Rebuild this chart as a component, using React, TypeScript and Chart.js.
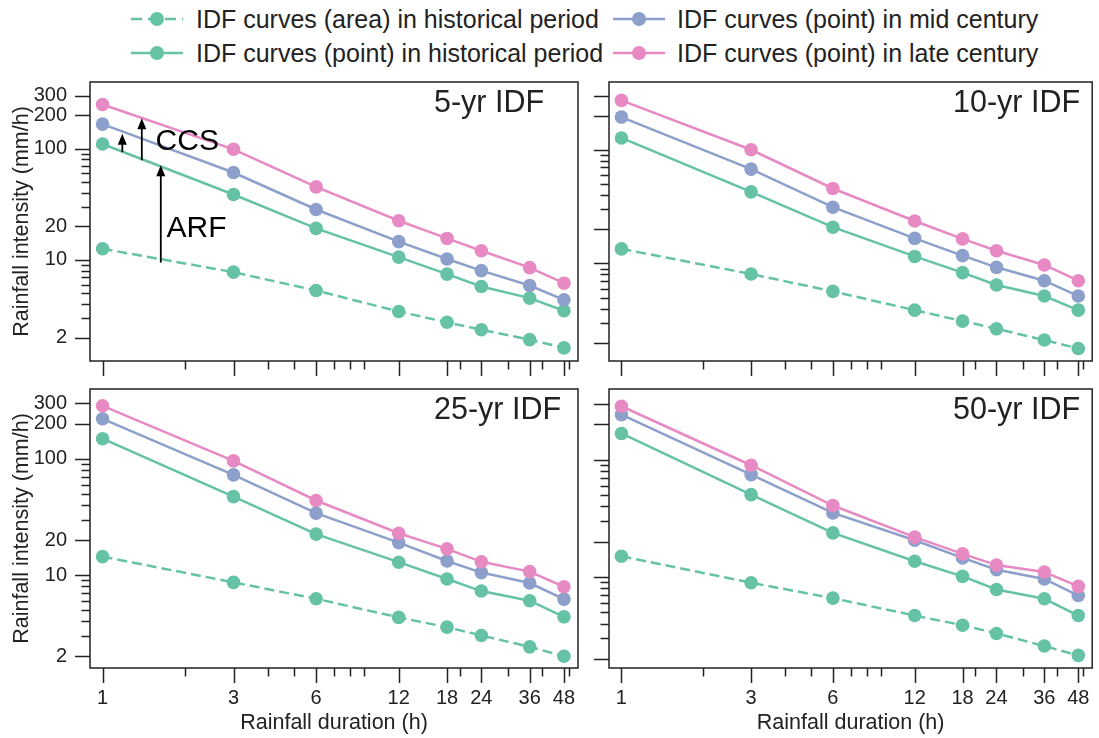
import React, { useEffect, useRef } from 'react';
import { Chart, registerables } from 'chart.js';

Chart.register(...registerables);

// ---------------- data ----------------
const durations = [1, 3, 6, 12, 18, 24, 36, 48];
const xMajorTicks = [1, 3, 6, 12, 18, 24, 36, 48];
const xMinorTicks = [2, 4, 5, 7, 8, 9, 20, 30, 40, 50];
const yMajorTicks = [2, 10, 20, 100, 200, 300];
const yMinorTicks = [3, 4, 5, 6, 7, 8, 9, 30, 40, 50, 60, 70, 80, 90];

const seriesLabels = [
  'IDF curves (area) in historical period',
  'IDF curves (point) in historical period',
  'IDF curves (point) in mid century',
  'IDF curves (point) in late century',
];
const panelTitles = ['5-yr IDF', '10-yr IDF', '25-yr IDF', '50-yr IDF'];

// 5-yr
const area5 = [12.6, 7.76, 5.31, 3.44, 2.75, 2.36, 1.92, 1.62];
const hist5 = [110, 38.7, 19.2, 10.6, 7.45, 5.77, 4.54, 3.49];
const mid5 = [166, 61, 28.4, 14.6, 10.2, 8.02, 5.89, 4.38];
const late5 = [249, 98.6, 45.3, 22.5, 15.6, 12.1, 8.53, 6.18];
// 10-yr
const area10 = [13.4, 8.05, 5.66, 3.87, 3.1, 2.65, 2.11, 1.78];
const hist10 = [127, 42.6, 20.8, 11.5, 8.28, 6.44, 5.15, 3.87];
const mid10 = [194, 67.5, 31.2, 16.6, 11.7, 9.22, 7.03, 5.15];
const late10 = [272, 100, 45.6, 23.6, 16.4, 12.9, 9.67, 7.03];
// 25-yr
const area25 = [14.4, 8.65, 6.25, 4.32, 3.56, 3.02, 2.41, 2.0];
const hist25 = [149, 47.3, 22.5, 12.9, 9.24, 7.28, 6.01, 4.37];
const mid25 = [221, 72.8, 34.1, 19.0, 13.2, 10.5, 8.53, 6.21];
const late25 = [286, 96, 43.8, 22.9, 16.8, 13.0, 10.7, 7.93];
// 50-yr
const area50 = [15.0, 8.9, 6.58, 4.68, 3.87, 3.29, 2.57, 2.14];
const hist50 = [167, 50.3, 23.7, 13.6, 10.1, 7.8, 6.5, 4.68];
const mid50 = [242, 74.5, 35.1, 20.5, 14.5, 11.5, 9.6, 6.93];
const late50 = [285, 89.5, 40.6, 21.8, 15.7, 12.6, 11.0, 8.3];

const yMins = [1.235, 1.38, 1.585, 1.67];
const yMaxs = [397, 395, 399, 400];
const xMin = 0.9;
const xMax = 54;

// annotation (data coordinates, 5-yr panel)
const ccsArrows = [
  { x: 1.18, from: 93, to: 136 },
  { x: 1.39, from: 78.6, to: 188 },
];
const arfArrow = { x: 1.63, from: 9.46, to: 70.9 };
const ccsLabel = { x: 1.56, y: 116, text: 'CCS' };
const arfLabel = { x: 1.71, y: 18.9, text: 'ARF' };

// ---------------- style ----------------
const GREEN = '#66c2a5';
const BLUE = '#8da0cb';
const PINK = '#e78ac3';
const AXIS = '#222222';
const FONT = '"Liberation Sans", Arial, Helvetica, sans-serif';

const panelData = [
  [area5, hist5, mid5, late5],
  [area10, hist10, mid10, late10],
  [area25, hist25, mid25, late25],
  [area50, hist50, mid50, late50],
];

type Layout = {
  left: number; top: number; width: number; height: number;
  padTop: number; padRight: number; yWidth: number; xHeight: number;
  yLabels: boolean; xLabels: boolean;
};

const layouts: Layout[] = [
  { left: 0, top: 70, width: 590, height: 310, padTop: 12, padRight: 12, yWidth: 90, xHeight: 19, yLabels: true, xLabels: false },
  { left: 590, top: 70, width: 509, height: 310, padTop: 12, padRight: 2, yWidth: 19, xHeight: 19, yLabels: false, xLabels: false },
  { left: 0, top: 380, width: 590, height: 358, padTop: 9, padRight: 12, yWidth: 90, xHeight: 70, yLabels: true, xLabels: true },
  { left: 590, top: 380, width: 509, height: 358, padTop: 9, padRight: 2, yWidth: 19, xHeight: 70, yLabels: false, xLabels: true },
];

const framePlugin = {
  id: 'frameTicks',
  afterDraw(chart: any, _args: any, opts: any) {
    const { ctx, chartArea: a, scales } = chart;
    const xs = scales.x;
    const ys = scales.y;
    ctx.save();
    ctx.strokeStyle = AXIS;
    ctx.lineWidth = 1.5;
    ctx.strokeRect(a.left, a.top, a.right - a.left, a.bottom - a.top);
    const MAJ = 15;
    const MIN = 8.5;
    ctx.beginPath();
    for (const v of xMajorTicks) {
      const px = Math.round(xs.getPixelForValue(v)) + 0.5;
      ctx.moveTo(px, a.bottom); ctx.lineTo(px, a.bottom + MAJ);
    }
    for (const v of xMinorTicks) {
      const px = Math.round(xs.getPixelForValue(v)) + 0.5;
      ctx.moveTo(px, a.bottom); ctx.lineTo(px, a.bottom + MIN);
    }
    for (const v of yMajorTicks) {
      const py = Math.round(ys.getPixelForValue(v)) + 0.5;
      ctx.moveTo(a.left, py); ctx.lineTo(a.left - MAJ, py);
    }
    for (const v of yMinorTicks) {
      const py = Math.round(ys.getPixelForValue(v)) + 0.5;
      ctx.moveTo(a.left, py); ctx.lineTo(a.left - MIN, py);
    }
    ctx.stroke();

    // panel title
    ctx.fillStyle = AXIS;
    ctx.font = `30.5px ${FONT}`;
    ctx.textAlign = 'left';
    ctx.textBaseline = 'alphabetic';
    ctx.fillText(opts.title, a.left + 344, a.top + 30);

    if (opts.annotate) {
      const arrow = (x: number, from: number, to: number) => {
        const px = xs.getPixelForValue(x);
        const y0 = ys.getPixelForValue(from);
        const y1 = ys.getPixelForValue(to);
        const hl = 11;
        const hw = 4.5;
        ctx.strokeStyle = '#000';
        ctx.fillStyle = '#000';
        ctx.lineWidth = 1.8;
        ctx.beginPath();
        ctx.moveTo(px, y0);
        ctx.lineTo(px, y1 + hl - 1);
        ctx.stroke();
        ctx.beginPath();
        ctx.moveTo(px, y1);
        ctx.lineTo(px - hw, y1 + hl);
        ctx.lineTo(px + hw, y1 + hl);
        ctx.closePath();
        ctx.fill();
      };
      ccsArrows.forEach((a2) => arrow(a2.x, a2.from, a2.to));
      arrow(arfArrow.x, arfArrow.from, arfArrow.to);
      ctx.fillStyle = '#000';
      ctx.font = `30px ${FONT}`;
      ctx.textBaseline = 'middle';
      ctx.textAlign = 'left';
      ctx.fillText(ccsLabel.text, xs.getPixelForValue(ccsLabel.x), ys.getPixelForValue(ccsLabel.y));
      ctx.fillText(arfLabel.text, xs.getPixelForValue(arfLabel.x), ys.getPixelForValue(arfLabel.y));
    }
    ctx.restore();
  },
};

const seriesStyle = [
  { color: GREEN, dash: [10, 5], order: 3 },
  { color: GREEN, dash: [], order: 2 },
  { color: BLUE, dash: [], order: 1 },
  { color: PINK, dash: [], order: 0 },
];

function Panel({ idx }: { idx: number }) {
  const ref = useRef<HTMLCanvasElement>(null);
  const L = layouts[idx];
  useEffect(() => {
    const series = panelData[idx];
    const chart = new Chart(ref.current as HTMLCanvasElement, {
      type: 'line',
      data: {
        datasets: series.map((vals, si) => ({
          label: seriesLabels[si],
          data: durations.map((d, i) => ({ x: d, y: vals[i] })),
          borderColor: seriesStyle[si].color,
          backgroundColor: seriesStyle[si].color,
          pointBackgroundColor: seriesStyle[si].color,
          pointBorderWidth: 0,
          pointRadius: 6.8,
          borderWidth: 2.5,
          borderDash: seriesStyle[si].dash,
          order: seriesStyle[si].order,
          tension: 0,
          fill: false,
        })),
      },
      options: {
        animation: false,
        responsive: false,
        events: [],
        layout: { padding: { top: L.padTop, right: L.padRight, left: 0, bottom: 0 } },
        plugins: {
          legend: { display: false },
          tooltip: { enabled: false },
          frameTicks: { title: panelTitles[idx], annotate: idx === 0 },
        } as any,
        scales: {
          x: {
            type: 'logarithmic',
            min: xMin,
            max: xMax,
            grid: { display: false, drawTicks: false },
            border: { display: false },
            afterBuildTicks: (s: any) => { s.ticks = xMajorTicks.map((v) => ({ value: v })); },
            afterFit: (s: any) => {
              s.height = L.xHeight;
              s.paddingLeft = 0; s.paddingRight = 0; s.paddingTop = 0; s.paddingBottom = 0;
            },
            ticks: {
              display: L.xLabels,
              autoSkip: false,
              maxRotation: 0,
              padding: 18,
              color: AXIS,
              font: { size: 20, family: FONT },
              callback: (v: any) => String(v),
            },
            title: {
              display: L.xLabels,
              text: 'Rainfall duration (h)',
              color: AXIS,
              font: { size: 21.5, family: FONT },
              padding: { top: 0, bottom: 2 },
            },
          },
          y: {
            type: 'logarithmic',
            min: yMins[idx],
            max: yMaxs[idx],
            grid: { display: false, drawTicks: false },
            border: { display: false },
            afterBuildTicks: (s: any) => { s.ticks = yMajorTicks.map((v) => ({ value: v })); },
            afterFit: (s: any) => {
              s.width = L.yWidth;
              s.paddingLeft = 0; s.paddingRight = 0; s.paddingTop = 0; s.paddingBottom = 0;
            },
            ticks: {
              display: L.yLabels,
              autoSkip: false,
              padding: 23,
              color: AXIS,
              font: { size: 20, family: FONT },
              callback: (v: any) => String(v),
            },
            title: {
              display: L.yLabels,
              text: 'Rainfall intensity (mm/h)',
              color: AXIS,
              font: { size: 21.5, family: FONT },
              padding: { top: 9, bottom: 0 },
            },
          },
        },
      } as any,
      plugins: [framePlugin],
    });
    return () => chart.destroy();
  }, [idx]);
  return (
    <div style={{ position: 'absolute', left: L.left, top: L.top, width: L.width, height: L.height }}>
      <canvas ref={ref} width={L.width} height={L.height} style={{ display: 'block' }} />
    </div>
  );
}

const legendItems = [
  { s: 0, x: 131, y: 19, tx: 196 },
  { s: 1, x: 131, y: 53, tx: 196 },
  { s: 2, x: 613, y: 19, tx: 677 },
  { s: 3, x: 613, y: 53, tx: 677 },
];

export default function App() {
  return (
    <div style={{ position: 'absolute', left: 0, top: 0, width: 1099, height: 738, background: '#fff', overflow: 'hidden', fontFamily: FONT }}>
      {legendItems.map((it) => {
        const st = seriesStyle[it.s];
        return (
          <React.Fragment key={it.s}>
            <svg style={{ position: 'absolute', left: it.x, top: it.y - 8 }} width={52} height={16}>
              <line x1={0} y1={8} x2={52} y2={8} stroke={st.color} strokeWidth={2.5}
                strokeDasharray={st.dash.length ? '11 6' : undefined} />
              <circle cx={26} cy={8} r={7} fill={st.color} />
            </svg>
            <div style={{ position: 'absolute', left: it.tx, top: it.y, transform: 'translateY(-50%)', fontSize: 25, lineHeight: '29px', whiteSpace: 'nowrap', color: AXIS }}>
              {seriesLabels[it.s]}
            </div>
          </React.Fragment>
        );
      })}
      {[0, 1, 2, 3].map((i) => <Panel key={i} idx={i} />)}
    </div>
  );
}
